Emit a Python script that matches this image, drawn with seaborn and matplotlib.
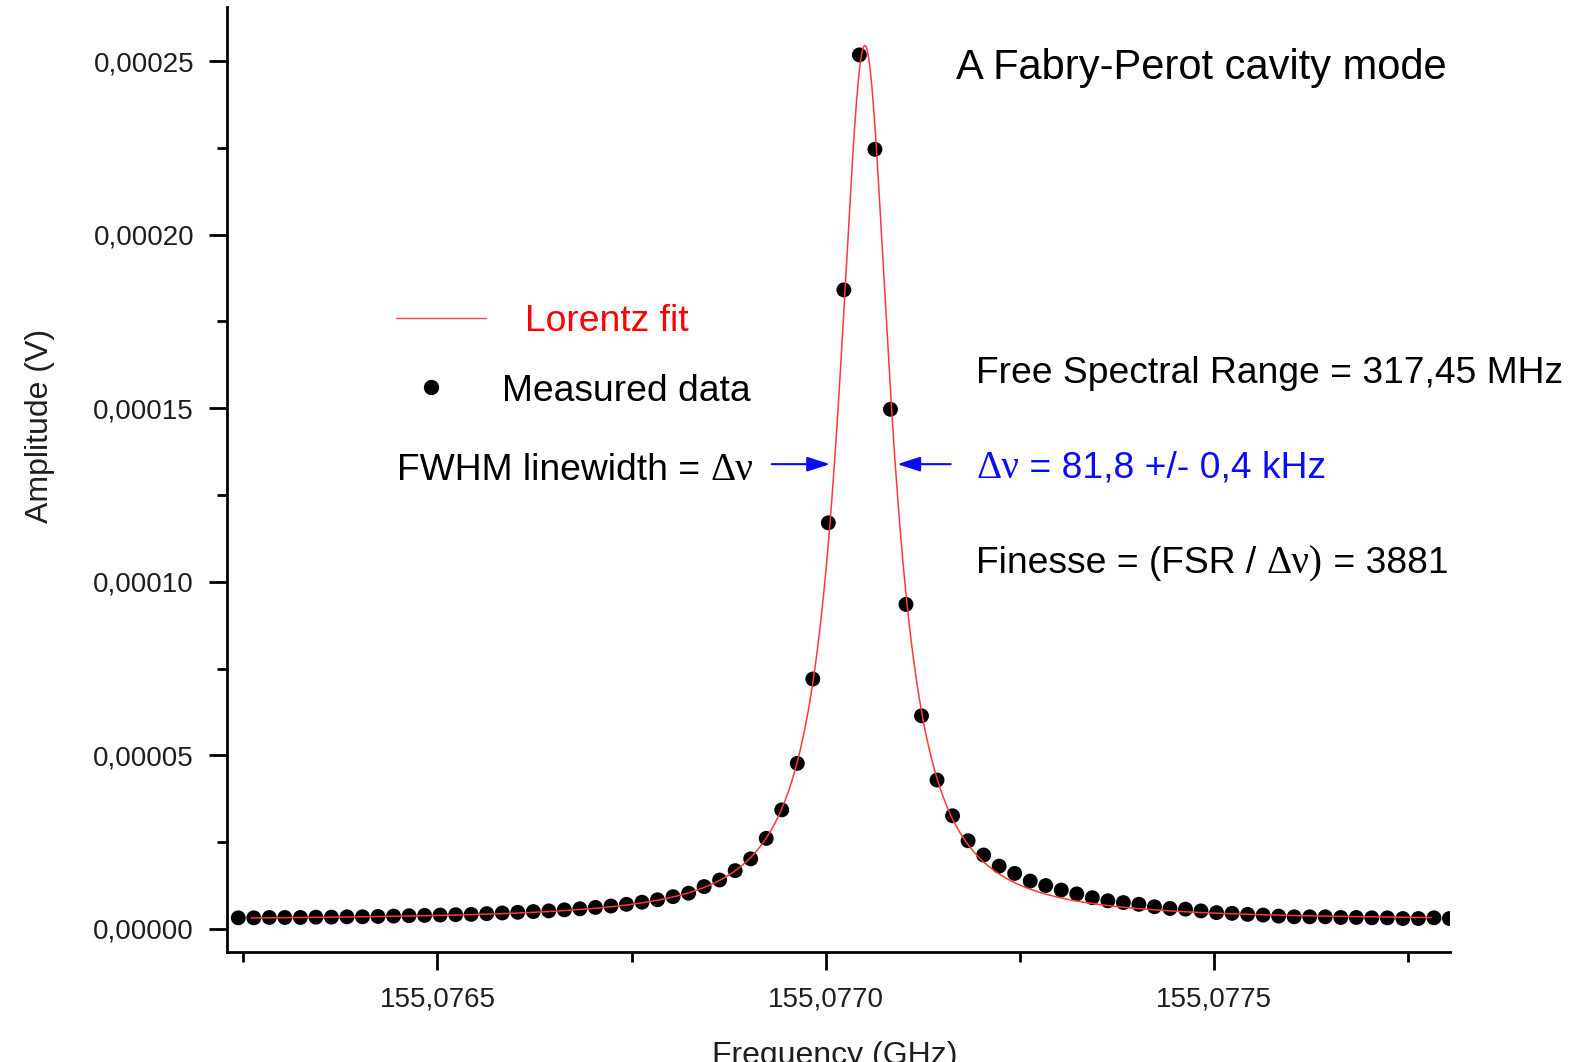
import numpy as np
import pandas as pd
import matplotlib
matplotlib.use("Agg")
import matplotlib.pyplot as plt
from matplotlib.lines import Line2D
import seaborn as sns

# ---------------- data ----------------
freq_ghz = [
    155.0762435, 155.0762635, 155.0762835, 155.0763035, 155.0763235, 155.0763435, 155.0763635, 155.0763835, 155.0764035, 155.0764235,
    155.0764435, 155.0764635, 155.0764835, 155.0765035, 155.0765235, 155.0765435, 155.0765635, 155.0765835, 155.0766035, 155.0766235,
    155.0766435, 155.0766635, 155.0766835, 155.0767035, 155.0767235, 155.0767435, 155.0767635, 155.0767835, 155.0768035, 155.0768235,
    155.0768435, 155.0768635, 155.0768835, 155.0769035, 155.0769235, 155.0769435, 155.0769635, 155.0769835, 155.0770035, 155.0770235,
    155.0770435, 155.0770635, 155.0770835, 155.0771035, 155.0771235, 155.0771435, 155.0771635, 155.0771835, 155.0772035, 155.0772235,
    155.0772435, 155.0772635, 155.0772835, 155.0773035, 155.0773235, 155.0773435, 155.0773635, 155.0773835, 155.0774035, 155.0774235,
    155.0774435, 155.0774635, 155.0774835, 155.0775035, 155.0775235, 155.0775435, 155.0775635, 155.0775835, 155.0776035, 155.0776235,
    155.0776435, 155.0776635, 155.0776835, 155.0777035, 155.0777235, 155.0777435, 155.0777635, 155.0777835, 155.0778035,
]
amp_uV = [
    3.2, 3.2, 3.3, 3.3, 3.3, 3.4, 3.4, 3.5, 3.5, 3.6,
    3.7, 3.8, 3.9, 4.0, 4.1, 4.2, 4.4, 4.6, 4.8, 5.0,
    5.2, 5.5, 5.8, 6.2, 6.6, 7.1, 7.7, 8.4, 9.3, 10.3,
    12.2, 14.1, 16.8, 20.2, 26.1, 34.3, 47.7, 72.0, 117.0, 184.1,
    251.8, 224.6, 149.7, 93.5, 61.4, 42.9, 32.6, 25.4, 21.3, 18.1,
    16.0, 13.8, 12.5, 11.2, 10.1, 9.0, 8.1, 7.6, 7.1, 6.4,
    5.9, 5.7, 5.2, 4.7, 4.5, 4.2, 4.0, 3.7, 3.5, 3.5,
    3.5, 3.3, 3.3, 3.2, 3.2, 3.0, 3.0, 3.2, 3.0,
]

# Lorentz fit parameters (FWHM as annotated on the chart)
fit_center_ghz = 155.0770505
fit_fwhm_khz = 81.8
fit_peak_uV = 252.0
fit_offset_uV = 2.5
fit_start_ghz = 155.07626
fit_end_ghz = 155.07778

x_ticks = [155.0765, 155.0770, 155.0775]
x_tick_labels = ["155,0765", "155,0770", "155,0775"]
x_minor_ticks = [155.07625, 155.07675, 155.07725, 155.07775]
y_ticks = [0.0, 0.00005, 0.00010, 0.00015, 0.00020, 0.00025]
y_tick_labels = ["0,00000", "0,00005", "0,00010", "0,00015", "0,00020", "0,00025"]
y_minor_ticks = [0.000025, 0.000075, 0.000125, 0.000175, 0.000225]

# FWHM arrows (frequency GHz, amplitude V)
arrow_y = 0.0001339
left_arrow = (155.0769306, 155.0770057)
right_arrow = (155.0771611, 155.0770923)

# ---------------- figure ----------------
W, H = 1573, 1062
sns.set_style("ticks")
plt.rcParams["font.family"] = ["Liberation Sans", "DejaVu Sans"]

fig = plt.figure(figsize=(W / 100, H / 100), dpi=100)
L, R, B, T = 226.7, 1450.0, 952.0, 7.0
ax = fig.add_axes([L / W, 1 - B / H, (R - L) / W, (B - T) / H])

df = pd.DataFrame({"freq": freq_ghz, "amp": np.array(amp_uV) * 1e-6})
fx = np.linspace(fit_start_ghz, fit_end_ghz, 3000)
half_w = fit_fwhm_khz * 1e-6 / 2.0
fy = (fit_offset_uV + fit_peak_uV / (1 + ((fx - fit_center_ghz) / half_w) ** 2)) * 1e-6
fit_df = pd.DataFrame({"freq": fx, "amp": fy})

sns.scatterplot(data=df, x="freq", y="amp", ax=ax, color="black", s=115,
                edgecolor="none", linewidth=0, zorder=2, legend=False)
sns.lineplot(data=fit_df, x="freq", y="amp", ax=ax, color="#ff3838",
             linewidth=1.1, zorder=3, legend=False)

ax.set_xlim(155.0762286, 155.0778042)
ax.set_ylim(-6.64e-6, 265.6e-6)

ax.set_xticks(x_ticks, x_tick_labels)
ax.set_xticks(x_minor_ticks, minor=True)
ax.set_yticks(y_ticks, y_tick_labels)
ax.set_yticks(y_minor_ticks, minor=True)

for s in ["top", "right"]:
    ax.spines[s].set_visible(False)
for s in ["left", "bottom"]:
    ax.spines[s].set_linewidth(2.0)
    ax.spines[s].set_color("black")

ax.tick_params(axis="both", which="both", bottom=True, left=True, top=False, right=False)
ax.tick_params(axis="both", which="major", direction="out", length=13, width=2.0,
               color="black", labelsize=20, labelcolor="#1e1e1e")
ax.tick_params(axis="x", which="major", pad=12)
ax.tick_params(axis="y", which="major", pad=10.5)
ax.tick_params(axis="both", which="minor", direction="out", length=7.5, width=2.0,
               color="black")

ax.set_xlabel("Frequency (GHz)", fontsize=23, color="#1e1e1e")
ax.xaxis.set_label_coords(0.497, (B - 1041) / (B - T))
ax.set_ylabel("Amplitude (V)", fontsize=23, color="#1e1e1e")
ax.yaxis.set_label_coords((55 - L) / (R - L), (B - 425.9) / (B - T))

# FWHM arrows
for (x0, x1) in (left_arrow, right_arrow):
    ax.annotate("", xy=(x1, arrow_y), xytext=(x0, arrow_y),
                arrowprops=dict(arrowstyle="-|>,head_length=1.4,head_width=0.45",
                                color="#0a0aff", lw=1.5, shrinkA=0, shrinkB=0))

# ---------------- texts and manual legend ----------------
def fx_(px):
    return px / W

def fy_(py):
    return 1 - py / H

fig.canvas.draw()
renderer = fig.canvas.get_renderer()

def chain_text(x_px, y_px, pieces):
    cur = x_px
    for s, fam, col, sz in pieces:
        t = fig.text(fx_(cur), fy_(y_px), s, fontsize=sz, family=fam, color=col,
                     ha="left", va="baseline")
        bb = t.get_window_extent(renderer=renderer)
        cur = bb.x1

SANS = ["Liberation Sans", "DejaVu Sans"]
SERIF = ["Liberation Serif", "DejaVu Serif"]
TS = 26.8

fig.text(fx_(956), fy_(79), "A Fabry-Perot cavity mode", fontsize=30,
         family=SANS, color="black", ha="left", va="baseline")

fig.add_artist(Line2D([fx_(396), fx_(486.5)], [fy_(318), fy_(318)],
                      transform=fig.transFigure, color="#ff4040", lw=1.0))
fig.text(fx_(524.7), fy_(331), "Lorentz fit", fontsize=TS, family=SANS,
         color="#ff0000", ha="left", va="baseline")
fig.add_artist(Line2D([fx_(431.4)], [fy_(387)], transform=fig.transFigure,
                      marker="o", markersize=10, color="black", lw=0))
fig.text(fx_(501.6), fy_(401), "Measured data", fontsize=TS, family=SANS,
         color="black", ha="left", va="baseline")

chain_text(397, 480.5, [("FWHM linewidth = ", SANS, "black", TS),
                        ("\u0394\u03bd", SERIF, "black", TS + 1.5)])

fig.text(fx_(976), fy_(383), "Free Spectral Range = 317,45 MHz", fontsize=TS,
         family=SANS, color="black", ha="left", va="baseline")
chain_text(976, 477.5, [("\u0394\u03bd", SERIF, "#0a0aff", TS + 1.5),
                        (" = 81,8 +/- 0,4 kHz", SANS, "#0a0aff", TS)])
chain_text(976, 573, [("Finesse = (FSR / ", SANS, "black", TS),
                      ("\u0394\u03bd)", SERIF, "black", TS + 1.5),
                      (" = 3881", SANS, "black", TS)])

fig.savefig("out.png", dpi=100)
